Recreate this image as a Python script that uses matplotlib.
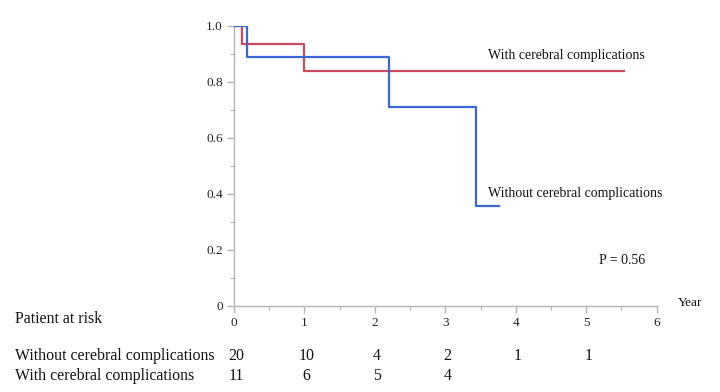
import matplotlib
matplotlib.use("Agg")
import matplotlib.pyplot as plt
from matplotlib.ticker import MultipleLocator
import matplotlib.transforms as mtransforms

# Kaplan-Meier step data (time in years, survival)
without_times = [0.0, 0.18, 2.20, 3.44, 3.76]
without_surv = [1.0, 0.889, 0.711, 0.356, 0.356]
with_times = [0.0, 0.12, 1.0, 5.54]
with_surv = [1.0, 0.934, 0.839, 0.839]

risk_years = [0, 1, 2, 3, 4, 5]
risk_without = ["20", "10", "4", "2", "1", "1"]
risk_with = ["11", "6", "5", "4", "", ""]

x_ticks = [0, 1, 2, 3, 4, 5, 6]
y_ticks = [0, 0.2, 0.4, 0.6, 0.8, 1.0]
y_tick_labels = ["0", "0.2", "0.4", "0.6", "0.8", "1.0"]

plt.rcParams['font.family'] = ['Liberation Serif', 'DejaVu Serif']

fig = plt.figure(figsize=(7.2, 3.92), dpi=100)
ax = fig.add_axes([0.325, 0.22, 0.587, 0.7144])

red = "#c94a5c"
blue = "#3b66d6"
ax.step(with_times, with_surv, where="post", color=red, lw=1.6, zorder=3)
ax.step(without_times, without_surv, where="post", color=blue, lw=1.6, zorder=4)

ax.set_xlim(0, 6)
ax.set_ylim(0, 1.0)
ax.set_xticks(x_ticks)
ax.set_yticks(y_ticks)
ax.set_yticklabels(y_tick_labels)
ax.xaxis.set_minor_locator(MultipleLocator(0.5))
ax.yaxis.set_minor_locator(MultipleLocator(0.1))

for s in ["top", "right"]:
    ax.spines[s].set_visible(False)
for s in ["left", "bottom"]:
    ax.spines[s].set_color("#b5b5b5")
    ax.spines[s].set_linewidth(1.0)

ax.tick_params(which="major", length=5, width=1.0, color="#b5b5b5",
               labelsize=9.5, labelcolor="#222222", pad=3)
ax.tick_params(which="minor", length=3, width=0.8, color="#b5b5b5")

ax.text(3.60, 0.893, "With cerebral complications", fontsize=10, color="#111111",
        va="center", ha="left")
ax.text(3.60, 0.402, "Without cerebral complications", fontsize=10, color="#111111",
        va="center", ha="left")
ax.text(5.18, 0.16, "P = 0.56", fontsize=10, color="#111111", va="center", ha="left")

# Year label
fig.text(678 / 720, 1 - 303 / 392, "Year", fontsize=9.5, color="#111111",
         va="center", ha="left")

# Patient at risk table
fs_tab = 11.4
fig.text(15 / 720, 1 - 319 / 392, "Patient at risk", fontsize=fs_tab, color="#111111",
         va="center", ha="left")
fig.text(15 / 720, 1 - 356 / 392, "Without cerebral complications", fontsize=fs_tab,
         color="#111111", va="center", ha="left")
fig.text(15 / 720, 1 - 376 / 392, "With cerebral complications", fontsize=fs_tab,
         color="#111111", va="center", ha="left")

trans = mtransforms.blended_transform_factory(ax.transData, fig.transFigure)
for x, a, b in zip(risk_years, risk_without, risk_with):
    ax.text(x + 0.03, 1 - 356 / 392, a, transform=trans, fontsize=fs_tab, color="#111111",
            ha="center", va="center", clip_on=False)
    ax.text(x + 0.03, 1 - 376 / 392, b, transform=trans, fontsize=fs_tab, color="#111111",
            ha="center", va="center", clip_on=False)

fig.savefig("out.png", dpi=100)
